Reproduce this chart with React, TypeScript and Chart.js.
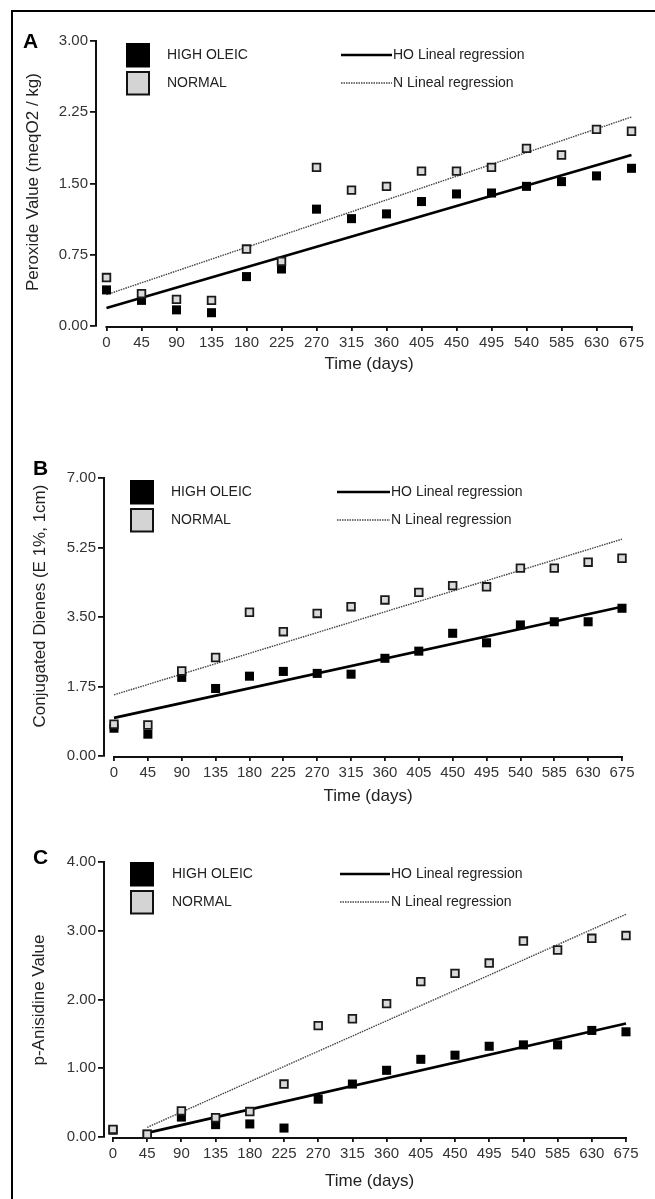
import React, { useEffect, useRef } from "react";
import { Chart, registerables } from "chart.js";

Chart.register(...registerables);

const FONT = '"Liberation Sans", Arial, Helvetica, sans-serif';

// ---- data ----
const days = [0, 45, 90, 135, 180, 225, 270, 315, 360, 405, 450, 495, 540, 585, 630, 675];

const peroxideHO = [0.38, 0.27, 0.17, 0.14, 0.52, 0.6, 1.23, 1.13, 1.18, 1.31, 1.39, 1.4, 1.47, 1.52, 1.58, 1.66];
const peroxideN = [0.51, 0.34, 0.28, 0.27, 0.81, 0.68, 1.67, 1.43, 1.47, 1.63, 1.63, 1.67, 1.87, 1.8, 2.07, 2.05];
const peroxideRegDays = [0, 675];
const peroxideRegHO = [0.19, 1.8];
const peroxideRegN = [0.33, 2.2];
const peroxideTicks = [0, 0.75, 1.5, 2.25, 3];

const dienesHO = [0.7, 0.55, 1.98, 1.7, 2.01, 2.13, 2.08, 2.06, 2.46, 2.64, 3.09, 2.85, 3.3, 3.38, 3.38, 3.72];
const dienesN = [0.8, 0.78, 2.14, 2.48, 3.62, 3.13, 3.59, 3.76, 3.93, 4.12, 4.29, 4.26, 4.73, 4.73, 4.88, 4.98];
const dienesRegDays = [0, 675];
const dienesRegHO = [0.96, 3.76];
const dienesRegN = [1.54, 5.46];
const dienesTicks = [0, 1.75, 3.5, 5.25, 7];

const anisidineHO = [0.1, 0.04, 0.29, 0.18, 0.19, 0.13, 0.55, 0.77, 0.97, 1.13, 1.19, 1.32, 1.34, 1.34, 1.55, 1.53];
const anisidineN = [0.11, 0.04, 0.38, 0.28, 0.37, 0.77, 1.62, 1.72, 1.94, 2.26, 2.38, 2.53, 2.85, 2.72, 2.89, 2.93];
const anisidineRegDays = [45, 675];
const anisidineRegHO = [0.06, 1.65];
const anisidineRegN = [0.14, 3.24];
const anisidineTicks = [0, 1, 2, 3, 4];

const legendLabels = ["HIGH OLEIC", "NORMAL", "HO Lineal regression", "N Lineal regression"];
const xTitle = "Time (days)";

// ---- layout ----
const W = 655;

type Panel = {
  letter: string;
  top: number;
  height: number;
  axisX: number;
  x0: number;
  x675: number;
  plotTop: number;
  plotBottom: number;
  right: number;
  yMax: number;
  yTicks: number[];
  ho: number[];
  n: number[];
  regDays: number[];
  regHO: number[];
  regN: number[];
  yTitle: string;
  yTitleX: number;
  yTitleY: number;
  timeY: number;
  letterX: number;
  letterY: number;
  legend: { sqX: number; sqTop: number; textX: number; lineX1: number; lineX2: number };
};

const panels: Panel[] = [
  {
    letter: "A", top: 0, height: 390, axisX: 96, x0: 106.5, x675: 631.5, plotTop: 41, plotBottom: 326, right: 641,
    yMax: 3, yTicks: peroxideTicks, ho: peroxideHO, n: peroxideN, regDays: peroxideRegDays, regHO: peroxideRegHO, regN: peroxideRegN,
    yTitle: "Peroxide Value (meqO2 / kg)", yTitleX: 33, yTitleY: 182, timeY: 364, letterX: 23, letterY: 48,
    legend: { sqX: 126, sqTop: 43, textX: 167, lineX1: 341, lineX2: 392 },
  },
  {
    letter: "B", top: 420, height: 400, axisX: 104, x0: 114, x675: 622, plotTop: 58, plotBottom: 336, right: 636,
    yMax: 7, yTicks: dienesTicks, ho: dienesHO, n: dienesN, regDays: dienesRegDays, regHO: dienesRegHO, regN: dienesRegN,
    yTitle: "Conjugated Dienes (E 1%, 1cm)", yTitleX: 40, yTitleY: 186, timeY: 376, letterX: 33, letterY: 55,
    legend: { sqX: 130, sqTop: 60, textX: 171, lineX1: 337, lineX2: 390 },
  },
  {
    letter: "C", top: 830, height: 369, axisX: 104, x0: 113, x675: 626, plotTop: 32, plotBottom: 307, right: 640,
    yMax: 4, yTicks: anisidineTicks, ho: anisidineHO, n: anisidineN, regDays: anisidineRegDays, regHO: anisidineRegHO, regN: anisidineRegN,
    yTitle: "p-Anisidine Value", yTitleX: 39, yTitleY: 170, timeY: 351, letterX: 33, letterY: 34,
    legend: { sqX: 130, sqTop: 32, textX: 172, lineX1: 340, lineX2: 390 },
  },
];

function makeChart(canvas: HTMLCanvasElement, p: Panel) {
  const k = (p.x675 - p.x0) / 675;
  const xMin = -(p.x0 - p.axisX) / k;
  const xMax = xMin + (p.right - p.axisX) / k;
  const pts = (arr: number[]) => days.map((d, i) => ({ x: d, y: arr[i] }));
  const reg = (arr: number[]) => p.regDays.map((d, i) => ({ x: d, y: arr[i] }));

  const decor = {
    id: "decor" + p.letter,
    beforeDatasetsDraw(chart: any) {
      const ctx = chart.ctx;
      const xs = chart.scales.x;
      const ca = chart.chartArea;
      ctx.save();
      ctx.strokeStyle = "#111";
      ctx.lineWidth = 2;
      ctx.beginPath();
      ctx.moveTo(xs.getPixelForValue(0) - 1, ca.bottom + 1);
      ctx.lineTo(xs.getPixelForValue(675) + 1, ca.bottom + 1);
      ctx.stroke();
      ctx.restore();
    },
    afterDraw(chart: any) {
      const ctx = chart.ctx;
      const xs = chart.scales.x;
      ctx.save();
      // panel letter
      ctx.fillStyle = "#000";
      ctx.font = `bold 21px ${FONT}`;
      ctx.textAlign = "left";
      ctx.textBaseline = "alphabetic";
      ctx.fillText(p.letter, p.letterX, p.letterY);
      // x title
      ctx.fillStyle = "#222";
      ctx.font = `17px ${FONT}`;
      ctx.textAlign = "center";
      ctx.textBaseline = "middle";
      ctx.fillText(xTitle, (xs.getPixelForValue(0) + xs.getPixelForValue(675)) / 2, p.timeY);
      // y title
      ctx.save();
      ctx.translate(p.yTitleX, p.yTitleY);
      ctx.rotate(-Math.PI / 2);
      ctx.fillText(p.yTitle, 0, 0);
      ctx.restore();
      // legend
      const L = p.legend;
      const c1 = L.sqTop + 12;
      const c2 = L.sqTop + 40;
      ctx.fillStyle = "#000";
      ctx.fillRect(L.sqX, L.sqTop, 24, 24.5);
      ctx.fillStyle = "#d4d4d4";
      ctx.fillRect(L.sqX + 1, L.sqTop + 29, 22, 22.5);
      ctx.strokeStyle = "#111";
      ctx.lineWidth = 2;
      ctx.strokeRect(L.sqX + 1, L.sqTop + 29, 22, 22.5);
      ctx.font = `14px ${FONT}`;
      ctx.fillStyle = "#222";
      ctx.textAlign = "left";
      ctx.fillText(legendLabels[0], L.textX, c1);
      ctx.fillText(legendLabels[1], L.textX, c2);
      ctx.fillText(legendLabels[2], L.lineX2 + 1, c1);
      ctx.fillText(legendLabels[3], L.lineX2 + 1, c2);
      ctx.strokeStyle = "#000";
      ctx.lineWidth = 2.6;
      ctx.beginPath();
      ctx.moveTo(L.lineX1, c1);
      ctx.lineTo(L.lineX2, c1);
      ctx.stroke();
      ctx.strokeStyle = "#444";
      ctx.lineWidth = 1.4;
      ctx.setLineDash([1.5, 1]);
      ctx.beginPath();
      ctx.moveTo(L.lineX1, c2);
      ctx.lineTo(L.lineX2, c2);
      ctx.stroke();
      ctx.restore();
    },
  };

  return new Chart(canvas, {
    type: "scatter",
    data: {
      datasets: [
        {
          label: legendLabels[1], data: pts(p.n), pointStyle: "rect", pointRadius: 5.4,
          backgroundColor: "#dadada", borderColor: "#1a1a1a", borderWidth: 1.8, order: 0,
        },
        {
          label: legendLabels[0], data: pts(p.ho), pointStyle: "rect", pointRadius: 6.4,
          backgroundColor: "#000", borderColor: "#000", borderWidth: 0, order: 1,
        },
        {
          label: legendLabels[2], data: reg(p.regHO), showLine: true, pointRadius: 0,
          borderColor: "#000", borderWidth: 2.6, order: 2,
        },
        {
          label: legendLabels[3], data: reg(p.regN), showLine: true, pointRadius: 0,
          borderColor: "#444", borderWidth: 1.4, borderDash: [1.5, 1], order: 3,
        },
      ] as any,
    },
    options: {
      animation: false,
      responsive: false,
      devicePixelRatio: 1,
      events: [],
      clip: false as any,
      layout: { padding: { left: 0, right: W - p.right, top: p.plotTop, bottom: 0 } },
      plugins: { legend: { display: false }, tooltip: { enabled: false } },
      scales: {
        x: {
          type: "linear",
          min: xMin,
          max: xMax,
          afterBuildTicks: (s: any) => { s.ticks = days.map((v) => ({ value: v })); },
          afterFit: (s: any) => { s.height = p.height - p.plotBottom; },
          grid: { display: true, drawOnChartArea: false, drawTicks: true, tickLength: 5, color: "#111", lineWidth: 1.8 },
          border: { display: false },
          ticks: {
            autoSkip: false, maxRotation: 0, minRotation: 0, padding: 3, color: "#333",
            font: { family: FONT, size: 15 }, callback: (v: any) => String(v),
          },
        },
        y: {
          type: "linear",
          min: 0,
          max: p.yMax,
          afterBuildTicks: (s: any) => { s.ticks = p.yTicks.map((v) => ({ value: v })); },
          afterFit: (s: any) => { s.width = p.axisX; },
          grid: { display: true, drawOnChartArea: false, drawTicks: true, tickLength: 6, color: "#111", lineWidth: 1.8 },
          border: { display: true, color: "#111", width: 2 },
          ticks: {
            padding: 2, color: "#333", font: { family: FONT, size: 15 },
            callback: (v: any) => Number(v).toFixed(2),
          },
        },
      },
    } as any,
    plugins: [decor],
  });
}

function PanelChart({ p }: { p: Panel }) {
  const ref = useRef<HTMLCanvasElement | null>(null);
  useEffect(() => {
    if (!ref.current) return;
    const chart = makeChart(ref.current, p);
    return () => chart.destroy();
  }, [p]);
  return (
    <canvas
      ref={ref}
      width={W}
      height={p.height}
      style={{ position: "absolute", left: 0, top: p.top, width: W, height: p.height, display: "block" }}
    />
  );
}

export default function App() {
  return (
    <div style={{ position: "absolute", left: 0, top: 0, width: W, height: 1199, background: "#fff", overflow: "hidden" }}>
      <div
        style={{
          position: "absolute", left: 11, top: 10, width: 644, height: 1189, boxSizing: "border-box",
          borderLeft: "2px solid #000", borderTop: "2px solid #000",
        }}
      />
      {panels.map((p) => (
        <PanelChart key={p.letter} p={p} />
      ))}
    </div>
  );
}
